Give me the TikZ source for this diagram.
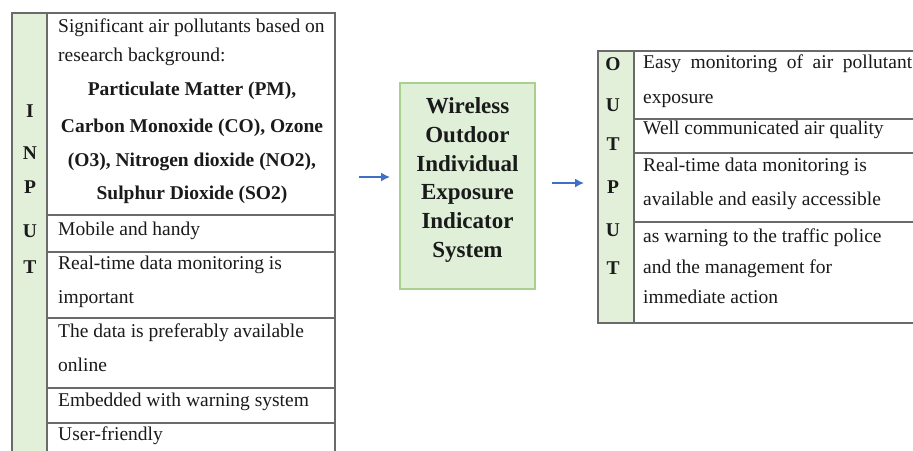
\documentclass[tikz,border=0pt]{standalone}
\usepackage{fontspec}
\setmainfont{Liberation Serif}
\usetikzlibrary{arrows.meta}
\definecolor{cellgreen}{HTML}{E2F0D9}
\definecolor{boxfill}{HTML}{DFEFD8}
\definecolor{boxline}{HTML}{A9D18E}
\definecolor{gridgray}{HTML}{6A6A6A}
\definecolor{inkc}{HTML}{1A1A1A}
\definecolor{arrowblue}{HTML}{3F6FC6}
\begin{document}
\begin{tikzpicture}[x=1pt,y=-1pt,
  grid/.style={draw=gridgray,line width=1.5pt},
  txt/.style={anchor=west,inner sep=0pt,text=inkc,font=\fontsize{19.5}{24}\selectfont,text height=13.5pt,text depth=4.5pt},
  btxt/.style={anchor=center,inner sep=0pt,text=inkc,font=\bfseries\fontsize{19.5}{24}\selectfont,text height=13.5pt,text depth=4.5pt},
  letter/.style={anchor=center,inner sep=0pt,text=inkc,font=\bfseries\fontsize{19.5}{24}\selectfont},
  flow/.style={draw=arrowblue,line width=1.5pt,-{Latex[length=9pt,width=9pt]}}
]
\useasboundingbox (0,0) rectangle (913,450);
\clip (0,0) rectangle (913,450);
\fill[white] (0,0) rectangle (913,450);

% ---------- INPUT table ----------
\fill[cellgreen] (12,13) rectangle (47,470);
\draw[grid] (12,470) -- (12,13) -- (335,13) -- (335,470);
\draw[grid] (47,13) -- (47,470);
\foreach \yy in {215,252,318,388,423} \draw[grid] (47,\yy) -- (335,\yy);

\foreach \ch/\yy [count=\i] in {I/111,N/153,P/187,U/231,T/267}
  \node[letter] (inl\i) at (30,\yy) {\ch};

\node[txt] (in1a) at (58,28) {Significant air pollutants based on};
\node[txt] (in1b) at (58,57) {research background:};
\node[btxt] (in1c) at (192,91) {Particulate Matter (PM),};
\node[btxt] (in1d) at (192,128) {Carbon Monoxide (CO), Ozone};
\node[btxt] (in1e) at (192,162) {(O3), Nitrogen dioxide (NO2),};
\node[btxt] (in1f) at (192,195) {Sulphur Dioxide (SO2)};
\node[txt] (in2) at (58,231) {Mobile and handy};
\node[txt] (in3a) at (58,265) {Real-time data monitoring is};
\node[txt] (in3b) at (58,299) {important};
\node[txt] (in4a) at (58,333) {The data is preferably available};
\node[txt] (in4b) at (58,367) {online};
\node[txt] (in5) at (58,402) {Embedded with warning system};
\node[txt] (in6) at (58,436) {User-friendly};

% ---------- system box ----------
\node[draw=boxline,fill=boxfill,line width=1.8pt,minimum width=135pt,minimum height=206pt,inner sep=0pt] (sys) at (467.5,186) {};
\node[align=center,inner sep=0pt,text=inkc,font=\bfseries\fontsize{23}{28.8}\selectfont] (systext) at (467.5,180)
  {Wireless\\Outdoor\\Individual\\Exposure\\Indicator\\System};

% ---------- arrows ----------
\coordinate (a1s) at (359,177);
\coordinate (a1e) at (390,177);
\coordinate (a2s) at (552,183);
\coordinate (a2e) at (584,183);
\draw[flow] (a1s) -- (a1e);
\draw[flow] (a2s) -- (a2e);

% ---------- OUTPUT table ----------
\fill[cellgreen] (598,51) rectangle (634,323);
\draw[grid] (930,51) -- (598,51) -- (598,323) -- (930,323);
\draw[grid] (634,51) -- (634,323);
\foreach \yy in {119,153,222} \draw[grid] (634,\yy) -- (930,\yy);

\foreach \ch/\yy [count=\i] in {O/64,U/105,T/144,P/187,U/230,T/268}
  \node[letter] (outl\i) at (613,\yy) {\ch};

\node[txt] (out1a) at (643,64) {\hbox to 269pt{Easy\hfill monitoring\hfill of\hfill air\hfill pollutant}};
\node[txt] (out1b) at (643,99) {exposure};
\node[txt] (out2) at (643,130) {Well communicated air quality};
\node[txt] (out3a) at (643,167) {Real-time data monitoring is};
\node[txt] (out3b) at (643,201) {available and easily accessible};
\node[txt] (out4a) at (643,238) {as warning to the traffic police};
\node[txt] (out4b) at (643,269) {and the management for};
\node[txt] (out4c) at (643,299) {immediate action};
\end{tikzpicture}
\end{document}
